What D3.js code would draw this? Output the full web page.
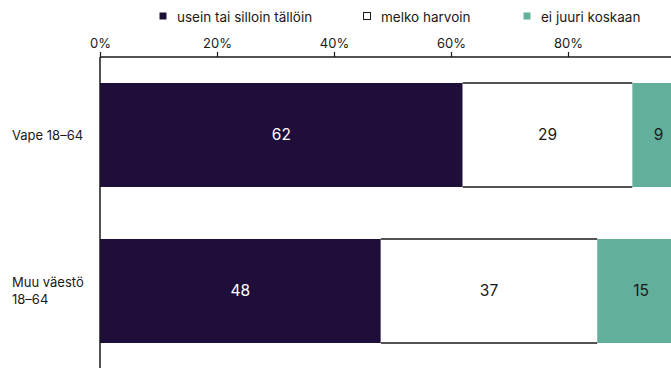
<!DOCTYPE html>
<html lang="fi">
<head>
<meta charset="UTF-8">
<title>Vape 18-64</title>
<script src="https://d3js.org/d3.v7.min.js"></script>
<style>
body { margin: 0; background: #fff; }
svg { font-family: "Inter", "Lato", sans-serif; display: block; }
</style>
</head>
<body>
<script>
// ================== DATA ==================
var categories = ["Vape 18–64", "Muu väestö 18–64"];
var seriesNames = ["usein tai silloin tällöin", "melko harvoin", "ei juuri koskaan"];
var often = [62, 48];
var rarely = [29, 37];
var never = [9, 15];
var tickValues = [0, 20, 40, 60, 80];

var colors = ["#200e3a", "#ffffff", "#62b09c"];
var textColors = ["#ffffff", "#1a1a1a", "#1a1a1a"];

// ================== SVG ==================
var w = 671, h = 370;
var svg = d3.select("body").append("svg")
    .attr("width", w)
    .attr("height", h);

var axisY = 57;
var x = d3.scaleLinear().domain([0, 100]).range([100, 685]);
var y = d3.scaleBand().domain(categories).range([axisY, 369])
    .paddingInner(1 / 3).paddingOuter(1 / 6);

// stack the rows
var rows = categories.map(function(c, i) {
    return { cat: c, often: often[i], rarely: rarely[i], never: never[i] };
});
var stack = d3.stack().keys(["often", "rarely", "never"])(rows);

var g = svg.append("g");
stack.forEach(function(layer, k) {
    var seg = g.selectAll(".s" + k)
        .data(layer)
        .enter().append("g");
    seg.append("rect")
        .attr("x", function(d) { return x(d[0]); })
        .attr("y", function(d) { return y(d.data.cat); })
        .attr("width", function(d) { return x(d[1]) - x(d[0]); })
        .attr("height", y.bandwidth())
        .attr("fill", colors[k]);
    if (k === 1) {
        // white segment only has top and bottom borders
        [0, 1].forEach(function(e) {
            seg.append("line")
                .attr("x1", function(d) { return x(d[0]); })
                .attr("x2", function(d) { return x(d[1]); })
                .attr("y1", function(d) { return y(d.data.cat) + e * y.bandwidth(); })
                .attr("y2", function(d) { return y(d.data.cat) + e * y.bandwidth(); })
                .attr("stroke", "#1a1a1a")
                .attr("stroke-width", 1.5);
        });
    }
});
// labels after all rects
stack.forEach(function(layer, k) {
    g.selectAll(".lab" + k)
        .data(layer)
        .enter().append("text")
        .attr("x", function(d) { return (x(d[0]) + x(d[1])) / 2; })
        .attr("y", function(d) { return y(d.data.cat) + y.bandwidth() / 2; })
        .attr("dy", "0.35em")
        .attr("text-anchor", "middle")
        .attr("font-size", 15.5)
        .attr("fill", textColors[k])
        .text(function(d) { return d[1] - d[0]; });
});

// ================== AXES ==================
var xAxis = d3.axisTop(x)
    .tickValues(tickValues)
    .tickSize(5)
    .tickPadding(4)
    .tickFormat(function(d) { return d + "%"; });
var ax = svg.append("g")
    .attr("transform", "translate(0," + axisY + ")")
    .call(xAxis);
ax.select(".domain").attr("d", "M100,0H685").attr("stroke", "#1a1a1a").attr("stroke-width", 1.5);
ax.selectAll(".tick line").attr("stroke", "#1a1a1a").attr("stroke-width", 1.2);
ax.selectAll(".tick text").attr("font-size", 13).attr("fill", "#1a1a1a").attr("font-family", "Inter, sans-serif");

svg.append("line")
    .attr("x1", x(0)).attr("x2", x(0))
    .attr("y1", axisY).attr("y2", 368)
    .attr("stroke", "#1a1a1a").attr("stroke-width", 1.5);

// category labels
var catLines = [["Vape 18–64"], ["Muu väestö", "18–64"]];
categories.forEach(function(c, i) {
    var lines = catLines[i];
    var cy = y(c) + y.bandwidth() / 2;
    var t = svg.append("text")
        .attr("x", 12)
        .attr("font-size", 13)
        .attr("fill", "#1a1a1a");
    lines.forEach(function(l, j) {
        t.append("tspan")
            .attr("x", 12)
            .attr("y", cy + (j - (lines.length - 1) / 2) * 17)
            .attr("dy", "0.35em")
            .text(l);
    });
});

// ================== LEGEND ==================
var legendX = [159, 363, 523];
var legend = svg.append("g");
seriesNames.forEach(function(name, i) {
    legend.append("rect")
        .attr("x", legendX[i] + 0.5)
        .attr("y", 12.5)
        .attr("width", 7)
        .attr("height", 7)
        .attr("fill", colors[i])
        .attr("stroke", i === 1 ? "#1a1a1a" : "none")
        .attr("stroke-width", 1);
    legend.append("text")
        .attr("x", legendX[i] + 18)
        .attr("y", 17)
        .attr("dy", "0.35em")
        .attr("font-size", 13.5)
        .attr("fill", "#1a1a1a")
        .text(name);
});
</script>
</body>
</html>
